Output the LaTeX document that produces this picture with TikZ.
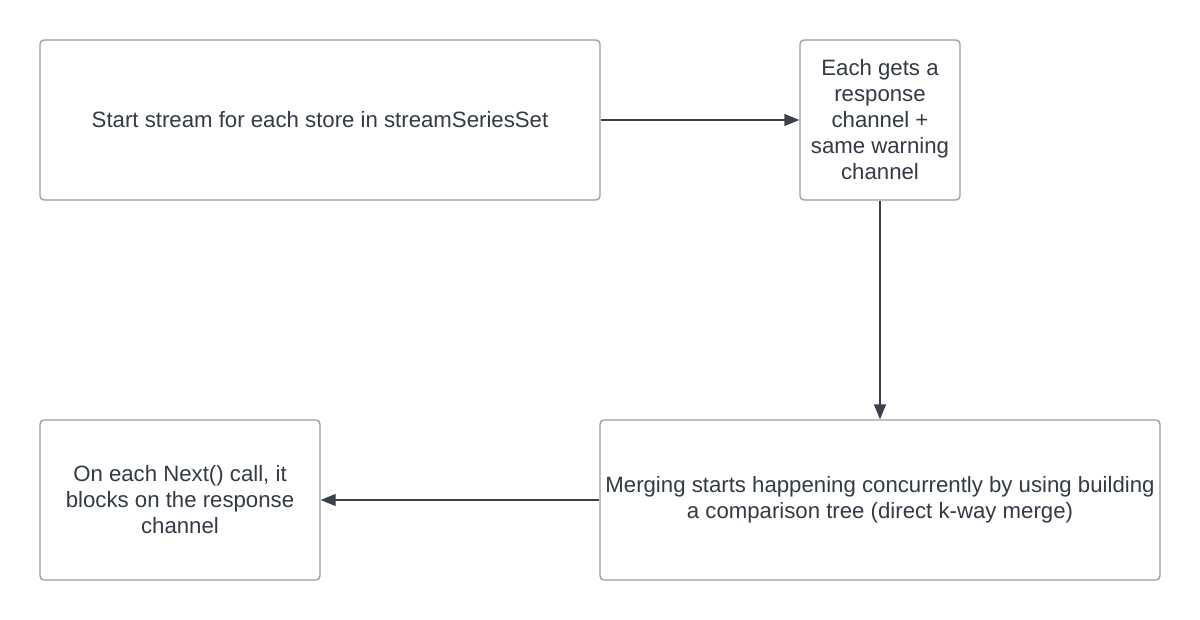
\documentclass[tikz,border=0pt]{standalone}
\usepackage{fontspec}
\setmainfont{Liberation Sans}
\usetikzlibrary{arrows.meta}
\definecolor{boxline}{HTML}{9A9CA0}
\definecolor{txt}{HTML}{333A45}
\definecolor{arr}{HTML}{3A414A}
\begin{document}
\begin{tikzpicture}[x=1pt,y=-1pt,
  box/.style={draw=boxline,line width=1.3pt,rounded corners=4pt,inner sep=0pt,
    align=center,text=txt,font=\fontsize{22.2}{26}\selectfont},
  conn/.style={draw=arr,line width=1.3pt,-{Triangle[length=15pt,width=12pt]}}]
\useasboundingbox (0,0) rectangle (1200,620);
\fill[white] (0,0) rectangle (1200,620);
\node[box,minimum width=560pt,minimum height=160pt] (a) at (320,120)
  {Start stream for each store in streamSeriesSet};
\node[box,minimum width=160pt,minimum height=160pt] (b) at (880,120)
  {Each gets a\\response\\channel +\\same warning\\channel};
\node[box,minimum width=560pt,minimum height=160pt] (c) at (880,500)
  {Merging starts happening concurrently by using building\\a comparison tree (direct k-way merge)};
\node[box,minimum width=280pt,minimum height=160pt] (d) at (180,500)
  {On each Next() call, it\\blocks on the response\\channel};
\draw[conn] (a.east) -- (b.west);
\draw[conn] (b.south) -- (c.north);
\draw[conn] (c.west) -- (d.east);
\end{tikzpicture}
\end{document}
